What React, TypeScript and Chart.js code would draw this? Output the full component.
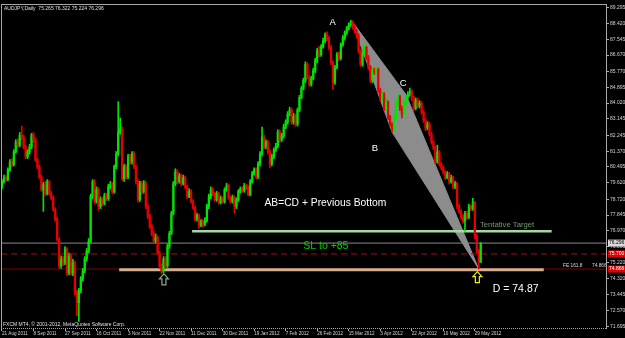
import React, { useEffect, useRef } from 'react';
import { Chart, registerables } from 'chart.js';

Chart.register(...registerables);

const FONT = '"Liberation Sans", Arial, sans-serif';

// ---- Daily AUDJPY candles (bar index 0 = 21 Aug 2011) ----
const firstOpen = 79.41;
const lastOpen = 75.265;
const closes = [
  79.69, 79.91, 79.80, 80.34, 80.78, 80.62, 81.33, 81.88, 81.71, 82.26,
  82.15, 81.60, 81.06, 81.33, 81.60, 82.26, 81.99, 80.89, 80.51, 79.96,
  79.25, 79.52, 79.03, 79.69, 79.03, 78.81, 78.16, 77.61, 76.51, 75.03,
  75.42, 75.20, 75.97, 74.65, 75.58, 74.65, 75.20, 73.56, 73.01, 73.67,
  74.32, 74.76, 75.42, 75.86, 76.40, 78.87, 79.69, 78.59, 79.25, 78.32,
  78.70, 78.48, 78.92, 78.76, 79.41, 79.52, 79.14, 80.51, 81.22, 82.42,
  82.59, 79.85, 80.51, 79.96, 81.06, 80.78, 81.22, 80.51, 79.69, 78.70,
  79.58, 79.14, 79.58, 78.32, 77.77, 77.22, 76.84, 76.40, 76.62, 75.75,
  75.03, 74.76, 75.42, 75.03, 76.13, 76.84, 77.94, 79.58, 80.23, 79.69,
  80.02, 79.58, 79.91, 79.41, 78.87, 79.14, 78.59, 78.26, 77.61, 77.83,
  77.28, 77.50, 77.33, 77.55, 78.32, 78.87, 79.25, 79.03, 78.70, 79.03,
  78.54, 78.76, 78.59, 79.25, 79.47, 78.81, 78.59, 78.81, 78.32, 78.70,
  79.14, 79.30, 79.20, 79.47, 79.36, 78.98, 79.69, 80.13, 80.34, 79.96,
  80.67, 81.22, 82.15, 81.60, 81.88, 81.33, 80.67, 81.06, 81.44, 81.66,
  82.42, 81.99, 82.21, 82.70, 82.97, 83.41, 83.63, 82.97, 83.30, 82.86,
  83.63, 84.34, 84.83, 85.27, 86.15, 85.44, 85.05, 85.38, 85.82, 86.37,
  86.91, 86.69, 87.13, 87.46, 87.79, 87.57, 87.08, 86.26, 85.16, 85.98,
  86.69, 86.48, 87.24, 87.62, 87.90, 88.12, 88.34, 88.45, 88.23, 88.01,
  87.73, 86.91, 86.15, 86.80, 87.08, 86.53, 85.98, 85.27, 85.82, 85.71,
  85.87, 84.72, 84.29, 84.51, 83.74, 84.07, 83.25, 82.86, 82.59, 83.25,
  84.07, 84.34, 83.74, 83.41, 84.07, 84.34, 84.51, 84.67, 84.29, 83.74,
  84.18, 83.85, 84.01, 83.52, 83.08, 82.64, 82.86, 82.32, 81.88, 81.55,
  80.78, 81.33, 80.67, 80.45, 80.23, 79.91, 80.13, 79.69, 79.91, 79.41,
  79.58, 78.32, 78.05, 77.72, 77.50, 77.94, 77.72, 78.32, 78.21, 78.54,
  76.68, 75.86, 75.20, 76.296,
];
const highs = [
  79.80, 80.05, 80.02, 80.45, 80.90, 80.95, 81.45, 82.00, 82.05, 82.40,
  82.75, 82.25, 81.70, 81.45, 81.75, 82.35, 82.40, 82.10, 81.00, 80.60,
  80.05, 79.65, 79.70, 79.80, 79.75, 79.15, 78.90, 78.25, 77.75, 76.60,
  75.60, 75.55, 76.10, 76.05, 75.75, 75.70, 75.40, 75.30, 73.70, 73.80,
  74.45, 74.90, 75.55, 76.00, 76.55, 79.00, 79.80, 79.80, 79.40, 79.35,
  78.85, 78.80, 79.05, 79.05, 79.55, 79.70, 79.65, 80.60, 81.35, 84.10,
  83.20, 82.70, 80.65, 80.60, 81.20, 81.20, 81.35, 81.35, 80.60, 79.80,
  79.70, 79.70, 79.75, 79.70, 78.45, 77.90, 77.35, 76.95, 76.80, 76.70,
  75.85, 75.15, 75.55, 75.55, 76.25, 76.95, 78.05, 79.70, 80.40, 80.35,
  80.15, 80.10, 80.05, 80.00, 79.50, 79.30, 79.25, 78.70, 78.35, 77.95,
  77.90, 77.60, 77.60, 77.70, 78.45, 79.00, 79.40, 79.35, 79.10, 79.15,
  79.10, 78.90, 78.85, 79.35, 79.60, 79.55, 78.90, 78.95, 78.90, 78.80,
  79.25, 79.40, 79.40, 79.60, 79.55, 79.45, 79.80, 80.25, 80.45, 80.45,
  80.80, 81.35, 82.70, 82.25, 82.00, 81.95, 81.45, 81.20, 81.55, 81.80,
  82.55, 82.55, 82.35, 82.85, 83.10, 83.55, 83.80, 83.75, 83.45, 83.40,
  83.75, 84.45, 84.95, 85.40, 86.30, 86.25, 85.55, 85.50, 85.95, 86.50,
  87.05, 87.15, 87.25, 87.60, 87.90, 87.95, 87.70, 87.20, 86.35, 86.10,
  86.80, 86.85, 87.35, 87.75, 88.00, 88.25, 88.45, 88.58, 88.56, 88.35,
  88.10, 87.85, 87.00, 86.95, 87.30, 87.15, 86.65, 86.10, 85.95, 85.95,
  86.00, 85.95, 84.85, 84.65, 84.60, 84.20, 84.15, 83.35, 82.95, 83.40,
  84.20, 84.50, 84.45, 83.85, 84.20, 84.45, 84.65, 84.85, 84.75, 84.40,
  84.30, 84.30, 84.15, 84.10, 83.60, 83.15, 83.00, 82.95, 82.40, 81.95,
  81.65, 81.70, 81.40, 80.75, 80.55, 80.30, 80.25, 80.20, 80.05, 80.00,
  79.70, 79.65, 78.45, 78.15, 77.85, 78.05, 78.05, 78.45, 78.40, 78.76,
  78.60, 76.80, 75.95, 76.322,
];
const lows = [
  79.30, 79.60, 79.70, 79.72, 80.25, 80.50, 80.55, 81.25, 81.55, 81.60,
  82.00, 81.50, 80.95, 80.95, 81.20, 81.50, 81.85, 80.80, 80.40, 79.85,
  79.15, 78.05, 78.90, 78.95, 78.95, 78.70, 78.05, 77.50, 76.40, 74.90,
  74.90, 75.05, 75.10, 74.50, 74.55, 74.55, 74.50, 73.45, 72.30, 71.97,
  73.55, 74.20, 74.65, 75.30, 75.75, 76.30, 78.75, 78.45, 78.50, 78.10,
  78.20, 78.35, 78.40, 78.65, 78.65, 79.30, 79.00, 79.05, 80.40, 81.10,
  82.30, 79.75, 79.70, 79.85, 79.85, 80.65, 80.65, 80.40, 79.55, 78.55,
  78.60, 79.00, 79.05, 78.20, 77.65, 77.10, 76.70, 76.30, 76.30, 75.65,
  74.90, 74.60, 74.65, 74.90, 74.95, 76.00, 76.75, 77.85, 79.45, 79.55,
  79.60, 79.45, 79.50, 79.30, 78.75, 78.80, 78.50, 78.15, 77.50, 77.50,
  77.10, 77.20, 77.20, 77.25, 77.45, 78.20, 78.75, 78.90, 78.60, 78.60,
  78.45, 78.45, 78.50, 78.50, 79.15, 78.70, 78.50, 78.50, 77.94, 78.20,
  78.60, 79.05, 79.10, 79.10, 79.25, 78.90, 78.90, 79.60, 80.05, 79.85,
  79.85, 80.55, 81.10, 81.50, 81.50, 81.20, 80.45, 80.55, 80.95, 81.35,
  81.55, 81.85, 81.90, 82.10, 82.60, 82.85, 83.30, 82.85, 82.85, 82.75,
  82.75, 83.55, 84.25, 84.75, 85.15, 85.35, 84.95, 84.95, 85.30, 85.70,
  86.25, 86.55, 86.60, 87.05, 87.35, 87.45, 86.95, 86.15, 84.78, 85.05,
  85.90, 86.35, 86.40, 87.15, 87.50, 87.80, 88.05, 88.25, 88.10, 87.90,
  87.60, 86.80, 86.05, 86.05, 86.70, 86.40, 85.85, 85.15, 85.15, 85.60,
  85.60, 84.60, 84.15, 84.15, 83.60, 83.60, 83.10, 82.75, 82.42, 82.50,
  83.15, 83.95, 83.60, 83.20, 83.30, 83.95, 84.25, 84.40, 84.15, 83.60,
  83.65, 83.75, 83.75, 83.40, 82.95, 82.50, 82.55, 82.20, 81.75, 81.45,
  80.65, 80.70, 80.55, 80.35, 80.10, 79.80, 79.85, 79.55, 79.60, 79.30,
  79.30, 78.20, 77.95, 77.60, 77.39, 76.95, 77.60, 77.65, 78.10, 78.10,
  76.55, 75.75, 74.87, 75.224,
];

// ---- Axes ----
const yTickValues = [
  89.295, 88.42, 87.545, 86.67, 85.77, 84.895, 84.02, 83.145, 82.245, 81.37, 80.495,
  79.62, 78.72, 77.845, 76.97, 76.095, 75.22, 74.32, 73.445, 72.57, 71.695,
];
const dateLabels = [
  '21 Aug 2011', '8 Sep 2011', '27 Sep 2011', '16 Oct 2011', '3 Nov 2011', '22 Nov 2011',
  '11 Dec 2011', '30 Dec 2011', '19 Jan 2012', '7 Feb 2012', '26 Feb 2012', '15 Mar 2012',
  '3 Apr 2012', '22 Apr 2012', '10 May 2012', '29 May 2012',
];
const barsPerDateLabel = 16;
const yMin = 71.558;
const yMax = 89.486;
const xMin = -0.5;
const xMax = 307.1;

// ---- Objects on the chart ----
const bidPrice = 76.296;
const stopPrice = 75.7;
const fePrice = 74.866;
const targetPrice = 76.95;
const targetBars = [96.5, 279];
const bottomPrice = 74.83;
const bottomBars = [59.5, 275];
// Pattern polygon A, C, D, B
const patternBars = [177.5, 205, 242, 198];
const patternPrices = [88.56, 84.5, 74.87, 82.42];

const pointLabels = ['A', 'B', 'C'];
const pointLabelBars = [167.9, 189.3, 203.7];
const pointLabelPrices = [88.49, 81.52, 85.11];

const noteBar = 133.2;
const notePrice = 78.52;
const slBar = 152.9;
const slPrice = 76.15;
const targetTextBar = 242.6;
const targetTextPrice = 77.28;
const dTextBar = 249.1;
const dTextPrice = 73.78;
const dArrowBar = 241.3;
const dArrowPrice = 74.72;
const prevArrowBar = 82.2;
const prevArrowPrice = 74.6;

const BULL = '#00e400';
const BEAR = '#e80000';

function buildConfig(): any {
  const n = closes.length;
  const opens = closes.map((c, i) => (i === 0 ? firstOpen : i === n - 1 ? lastOpen : closes[i - 1]));
  const colors = closes.map((c, i) => (c >= opens[i] ? BULL : BEAR));
  const wickData = closes.map((_, i) => ({ x: i, y: [lows[i], highs[i]] }));
  const bodyData = closes.map((c, i) => ({ x: i, y: [Math.min(opens[i], c), Math.max(opens[i], c)] }));

  const hLine = (price: number, from: number, to: number, color: string, width: number, order: number, dash: number[] = []) => ({
    type: 'line',
    data: [
      { x: from, y: price },
      { x: to, y: price },
    ],
    borderColor: color,
    borderWidth: width,
    borderDash: dash,
    pointRadius: 0,
    fill: false,
    order,
  });

  const poly = patternBars.map((b, i) => ({ x: b, y: patternPrices[i] }));
  poly.push({ x: patternBars[0], y: patternPrices[0] });

  const overlay = {
    id: 'mt4overlay',
    beforeDraw(chart: any) {
      const { ctx, width, height } = chart;
      ctx.save();
      ctx.fillStyle = '#000';
      ctx.fillRect(0, 0, width, height);
      ctx.restore();
    },
    afterDatasetsDraw(chart: any) {
      const { ctx } = chart;
      const xs = chart.scales.x;
      const ys = chart.scales.y;
      const X = (v: number) => xs.getPixelForValue(v);
      const Y = (v: number) => ys.getPixelForValue(v);
      ctx.save();
      ctx.textBaseline = 'middle';
      ctx.fillStyle = '#ffffff';
      ctx.textAlign = 'center';
      ctx.font = `9.5px ${FONT}`;
      pointLabels.forEach((t, i) => ctx.fillText(t, X(pointLabelBars[i]), Y(pointLabelPrices[i])));
      ctx.textAlign = 'left';
      ctx.font = `10.3px ${FONT}`;
      ctx.fillText('AB=CD + Previous Bottom', X(noteBar), Y(notePrice));
      ctx.font = `10.5px ${FONT}`;
      ctx.fillText('D = 74.87', X(dTextBar), Y(dTextPrice));
      ctx.fillStyle = '#00d000';
      ctx.font = `10.5px ${FONT}`;
      ctx.fillText('SL to +85', X(slBar), Y(slPrice));
      ctx.fillStyle = '#6f9a6f';
      ctx.font = `7.7px ${FONT}`;
      ctx.fillText('Tentative Target', X(targetTextBar), Y(targetTextPrice));
      ctx.fillStyle = '#d8d8d8';
      ctx.font = `4.8px ${FONT}`;
      ctx.fillText('FE 161.8', 563, Y(fePrice) - 3);
      ctx.fillText('74.866', 592, Y(fePrice) - 3);

      const arrow = (cx: number, top: number, color: string) => {
        ctx.beginPath();
        ctx.moveTo(cx, top);
        ctx.lineTo(cx + 4.5, top + 5);
        ctx.lineTo(cx + 2, top + 5);
        ctx.lineTo(cx + 2, top + 11);
        ctx.lineTo(cx - 2, top + 11);
        ctx.lineTo(cx - 2, top + 5);
        ctx.lineTo(cx - 4.5, top + 5);
        ctx.closePath();
        ctx.strokeStyle = color;
        ctx.lineWidth = 1.2;
        ctx.stroke();
      };
      arrow(X(dArrowBar), Y(dArrowPrice), '#f0f000');
      arrow(X(prevArrowBar), Y(prevArrowPrice), '#8fa88f');
      ctx.restore();
    },
    afterDraw(chart: any) {
      const { ctx, chartArea } = chart;
      const ys = chart.scales.y;
      const { left, top, right, bottom } = chartArea;
      ctx.save();
      ctx.strokeStyle = '#a8a8a8';
      ctx.lineWidth = 1;
      ctx.beginPath();
      ctx.moveTo(left, top + 0.5);
      ctx.lineTo(right, top + 0.5);
      ctx.moveTo(left + 0.5, top);
      ctx.lineTo(left + 0.5, bottom);
      ctx.moveTo(right - 0.5, top);
      ctx.lineTo(right - 0.5, bottom);
      ctx.stroke();
      ctx.setLineDash([1, 1]);
      ctx.beginPath();
      ctx.moveTo(left, bottom - 0.5);
      ctx.lineTo(right, bottom - 0.5);
      ctx.stroke();
      ctx.setLineDash([]);

      ctx.fillStyle = '#e0e0e0';
      ctx.textBaseline = 'middle';
      ctx.textAlign = 'left';
      ctx.font = `5px ${FONT}`;
      ctx.fillText('AUDJPY,Daily  75.265 76.322 75.224 76.296', left + 3, top + 5);
      ctx.fillText('FXCM MT4, \u00a9 2001-2012, MetaQuotes Software Corp.', left + 2, bottom - 4);

      const box = (price: number, bg: string, fg: string) => {
        const y = ys.getPixelForValue(price);
        ctx.fillStyle = bg;
        ctx.fillRect(right + 1, y - 3.5, 17, 7);
        ctx.fillStyle = fg;
        ctx.font = `5px ${FONT}`;
        ctx.fillText(price.toFixed(3), right + 2, y);
      };
      box(bidPrice, '#d8d8d8', '#000000');
      box(stopPrice, '#e00000', '#ffffff');
      box(fePrice, '#e00000', '#ffffff');
      ctx.restore();
    },
  };

  return {
    type: 'bar',
    data: {
      datasets: [
        {
          type: 'bar',
          data: bodyData,
          backgroundColor: colors,
          barThickness: 1.6,
          minBarLength: 1,
          grouped: false,
          order: 1,
        },
        {
          type: 'bar',
          data: wickData,
          backgroundColor: colors,
          barThickness: 1,
          grouped: false,
          order: 2,
        },
        hLine(targetPrice, targetBars[0], targetBars[1], '#a6d6a6', 2.5, 10),
        hLine(bottomPrice, bottomBars[0], bottomBars[1], '#d0b090', 3, 11),
        hLine(bidPrice, xMin, xMax, '#8a8a8a', 1, 12),
        hLine(stopPrice, xMin, xMax, '#c00000', 1, 13, [6, 4]),
        hLine(fePrice, xMin, xMax, '#8a0000', 1, 14),
        {
          type: 'line',
          data: poly,
          borderColor: '#8c8c8c',
          borderWidth: 1,
          backgroundColor: '#8c8c8c',
          pointRadius: 0,
          fill: 'shape',
          tension: 0,
          order: 20,
        },
      ],
    },
    options: {
      animation: false,
      responsive: false,
      devicePixelRatio: 1,
      layout: { padding: { left: 1, top: 1, right: 0, bottom: 0 } },
      plugins: { legend: { display: false }, tooltip: { enabled: false } },
      scales: {
        x: {
          type: 'linear',
          min: xMin,
          max: xMax,
          offset: false,
          grid: { display: true, drawOnChartArea: false, drawTicks: true, tickLength: 2, color: '#b0b0b0', offset: false },
          border: { display: false },
          ticks: {
            autoSkip: false,
            maxRotation: 0,
            minRotation: 0,
            align: 'start',
            padding: 0,
            color: '#d4d4d4',
            font: { size: 4.6, family: FONT },
            callback: (_v: any, i: number) => dateLabels[i],
          },
          afterBuildTicks: (s: any) => {
            s.ticks = dateLabels.map((_, k) => ({ value: k * barsPerDateLabel }));
          },
          afterFit: (s: any) => {
            s.height = 9;
          },
        },
        y: {
          type: 'linear',
          position: 'right',
          min: yMin,
          max: yMax,
          grid: { display: true, drawOnChartArea: false, drawTicks: true, tickLength: 2, color: '#b0b0b0' },
          border: { display: false },
          ticks: {
            autoSkip: false,
            padding: 1,
            color: '#d4d4d4',
            font: { size: 5, family: FONT },
            callback: (v: any) => Number(v).toFixed(3),
          },
          afterBuildTicks: (s: any) => {
            s.ticks = yTickValues.map((v) => ({ value: v }));
          },
          afterFit: (s: any) => {
            s.width = 18;
          },
        },
      },
    },
    plugins: [overlay],
  };
}

export default function App() {
  const ref = useRef<HTMLCanvasElement>(null);
  useEffect(() => {
    const canvas = ref.current;
    if (!canvas) return;
    const chart = new Chart(canvas, buildConfig());
    return () => chart.destroy();
  }, []);
  return (
    <div style={{ position: 'absolute', left: 0, top: 0, width: 625, height: 338, background: '#000' }}>
      <canvas ref={ref} width={625} height={338} style={{ display: 'block', width: 625, height: 338 }} />
    </div>
  );
}
